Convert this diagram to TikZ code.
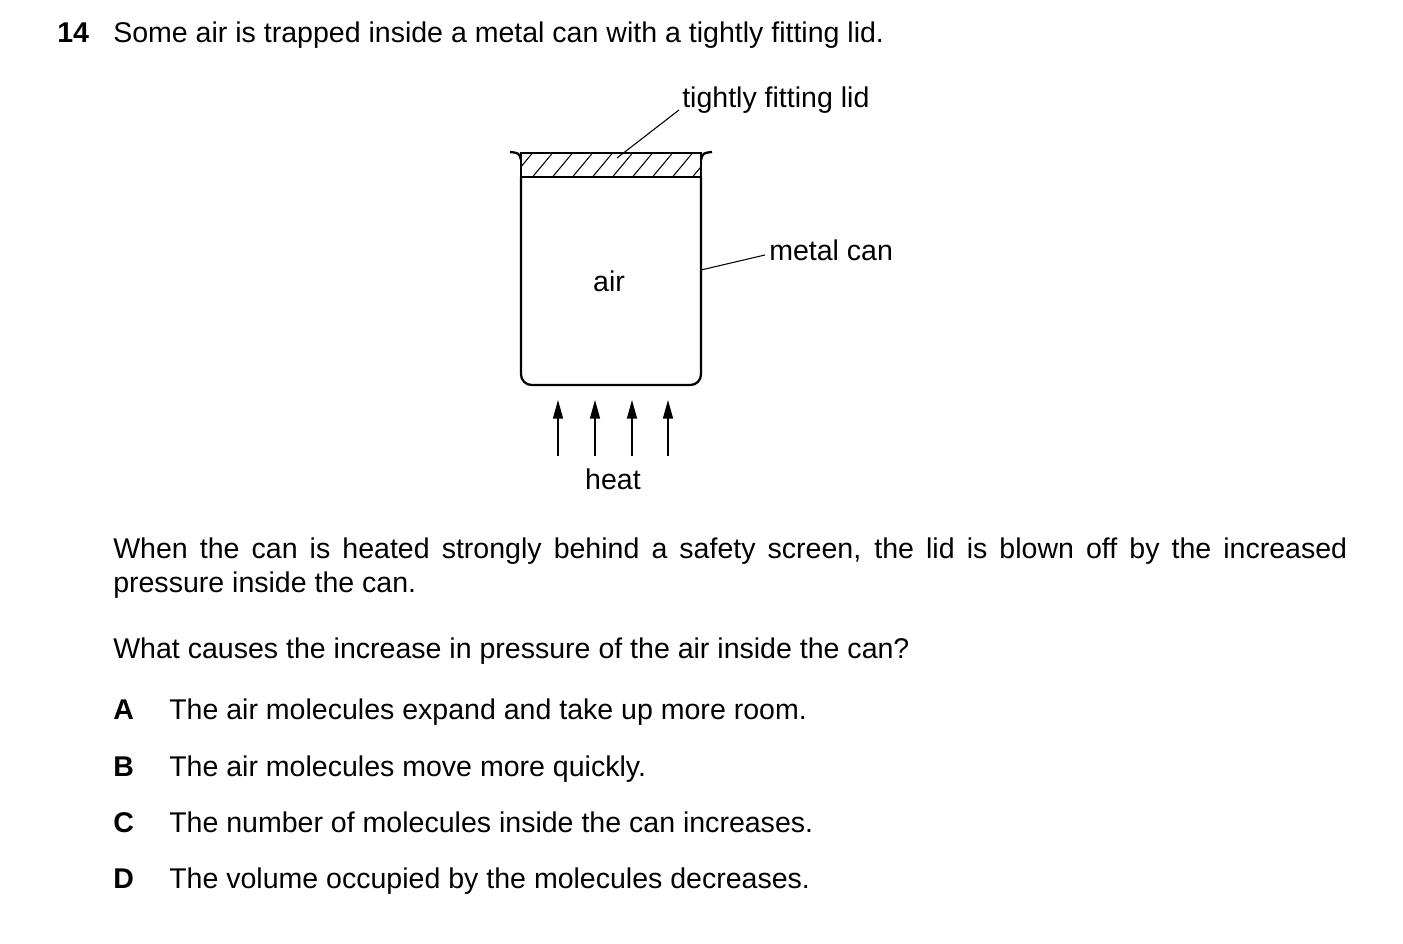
\documentclass[tikz,border=0pt]{standalone}
\usepackage{fontspec}
\setmainfont{Liberation Sans}
\usetikzlibrary{arrows.meta,patterns}
\begin{document}
\begin{tikzpicture}[x=0.75pt,y=-0.75pt,
  txt/.style={anchor=base west, inner sep=0pt, font=\fontsize{21.4}{25}\selectfont},
  lbl/.style={txt, anchor=base},
  can/.style={line width=1.7pt},
  lead/.style={line width=0.8pt},
  heatarrow/.style={line width=1.1pt, -{Triangle[length=14pt,width=7.5pt]}}
]
\useasboundingbox (0,0) rectangle (1403,944);

% question
\node[txt, font=\fontsize{21.4}{25}\selectfont\bfseries] (num) at (57,43) {14};
\node[txt] (q) at (113,43) {Some air is trapped inside a metal can with a tightly fitting lid.};

% can body
\draw[can, rounded corners=8] (521,177) -- (521,385) -- (701,385) -- (701,177);
% lid
\begin{scope}
\clip (521,153) rectangle (701,177);
\foreach \i in {0,...,10}
  \draw[lead] (510+\i*20,180) -- (535+\i*20,150);
\end{scope}
\draw[can] (521,153) rectangle (701,177);
% rims
\draw[can] (521,160) .. controls (519,153) .. (510,152);
\draw[can] (701,160) .. controls (703,153) .. (712,152);

% labels
\node[lbl] (air) at (609,292) {air};
\node[txt] (lidlbl) at (682,108) {tightly fitting lid};
\coordinate (lidend) at (617,158);
\coordinate (lidtop) at (679,110);
\draw[lead] (lidend) -- (lidtop);
\node[txt] (canlbl) at (769,261) {metal can};
\coordinate (wall) at (701,270);
\coordinate (cantip) at (765,255);
\draw[lead] (wall) -- (cantip);

% heat
\foreach \x in {558,595,632,668}
  \draw[heatarrow] (\x,456) -- (\x,400);
\node[lbl] (heat) at (613,490) {heat};

% text
\node[txt, font=\fontsize{21.4}{24.75}\selectfont] (para) at (113,559)
  {\parbox[t]{1234\dimexpr0.75pt\relax}{When the can is heated strongly behind a safety screen, the lid is blown off by the increased\linebreak pressure inside the can.}};
\node[txt] (ask) at (113,658) {What causes the increase in pressure of the air inside the can?};

\foreach \y/\l/\t in {719/A/The air molecules expand and take up more room.,
  776/B/The air molecules move more quickly.,
  832/C/The number of molecules inside the can increases.,
  888/D/The volume occupied by the molecules decreases.}{
  \node[txt, font=\fontsize{21.4}{25}\selectfont\bfseries] (opt\l) at (113,\y) {\l};
  \node[txt] (ans\l) at (169,\y) {\t};
}
\end{tikzpicture}
\end{document}
